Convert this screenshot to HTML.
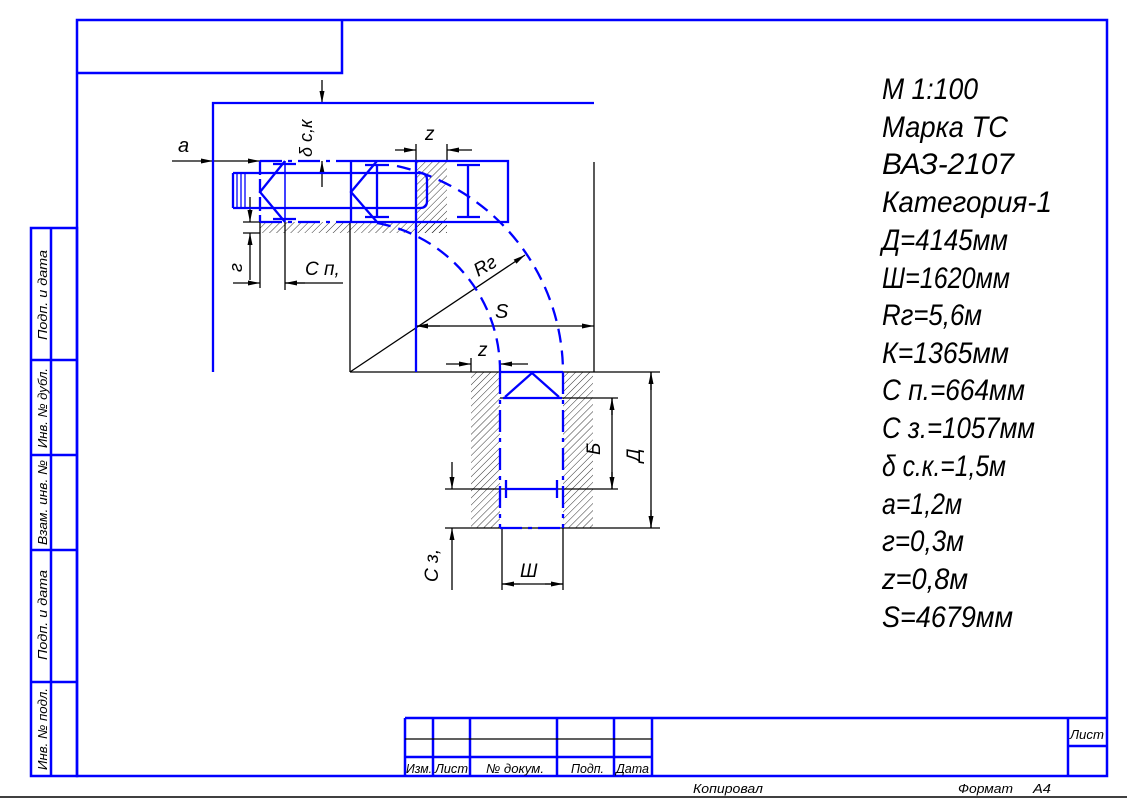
<!DOCTYPE html>
<html><head><meta charset="utf-8"><style>
html,body{margin:0;padding:0;background:#fff}
svg{display:block}
text{font-family:"Liberation Sans",sans-serif;font-style:italic}
</style></head><body>
<svg width="1127" height="798" viewBox="0 0 1127 798" xmlns="http://www.w3.org/2000/svg">
<defs>
<pattern id="h" patternUnits="userSpaceOnUse" width="5" height="5" patternTransform="rotate(45)">
<line x1="0" y1="0" x2="0" y2="5" stroke="#000" stroke-width="0.8"/>
</pattern>
<marker id="ar" markerWidth="12" markerHeight="6" refX="12" refY="3" orient="auto" markerUnits="userSpaceOnUse"><path d="M0,0.5 L12,3 L0,5.5z" fill="#000"/></marker>
</defs>
<rect width="1127" height="798" fill="#fff"/>
<g stroke="#00f" stroke-width="2.5" fill="none">
<rect x="77" y="20" width="1030" height="756"/>
<polyline points="77,73 342,73 342,20"/>
<rect x="31" y="228" width="46" height="548"/>
<line x1="51" y1="228" x2="51" y2="776"/>
<line x1="31" y1="360" x2="77" y2="360"/>
<line x1="31" y1="455" x2="77" y2="455"/>
<line x1="31" y1="550" x2="77" y2="550"/>
<line x1="31" y1="682" x2="77" y2="682"/>
<line x1="405" y1="718" x2="1107" y2="718"/>
<line x1="405" y1="718" x2="405" y2="776"/>
<line x1="433" y1="718" x2="433" y2="776"/>
<line x1="470" y1="718" x2="470" y2="776"/>
<line x1="557" y1="718" x2="557" y2="776"/>
<line x1="614" y1="718" x2="614" y2="776"/>
<line x1="652" y1="718" x2="652" y2="776"/>
<line x1="405" y1="757" x2="652" y2="757"/>
<line x1="1068" y1="718" x2="1068" y2="776"/>
<line x1="1068" y1="746" x2="1107" y2="746"/>
</g>
<line x1="405" y1="739" x2="652" y2="739" stroke="#000" stroke-width="1.2"/>
<line x1="0" y1="797" x2="1127" y2="797" stroke="#000" stroke-width="1.5"/>
<g font-size="13" fill="#000">
<text x="406" y="773" textLength="26" lengthAdjust="spacingAndGlyphs">Изм.</text>
<text x="435" y="773" textLength="33" lengthAdjust="spacingAndGlyphs">Лист</text>
<text x="486" y="773" textLength="58" lengthAdjust="spacingAndGlyphs">№ докум.</text>
<text x="571" y="773" textLength="33" lengthAdjust="spacingAndGlyphs">Подп.</text>
<text x="616" y="773" textLength="33" lengthAdjust="spacingAndGlyphs">Дата</text>
<text x="1070" y="739" textLength="34" lengthAdjust="spacingAndGlyphs">Лист</text>
<text x="693" y="793" textLength="70" lengthAdjust="spacingAndGlyphs">Копировал</text>
<text x="958" y="793" textLength="55" lengthAdjust="spacingAndGlyphs">Формат</text>
<text x="1033" y="793" textLength="18" lengthAdjust="spacingAndGlyphs">А4</text>
</g>
<g font-size="13" fill="#000">
<text transform="translate(47,340) rotate(-90)" textLength="90" lengthAdjust="spacingAndGlyphs">Подп. и дата</text>
<text transform="translate(47,448) rotate(-90)" textLength="80" lengthAdjust="spacingAndGlyphs">Инв. № дубл.</text>
<text transform="translate(47,545) rotate(-90)" textLength="85" lengthAdjust="spacingAndGlyphs">Взам. инв. №</text>
<text transform="translate(47,660) rotate(-90)" textLength="90" lengthAdjust="spacingAndGlyphs">Подп. и дата</text>
<text transform="translate(47,770) rotate(-90)" textLength="82" lengthAdjust="spacingAndGlyphs">Инв. № подл.</text>
</g>
<g fill="url(#h)">
<rect x="260" y="222" width="187" height="11"/>
<rect x="416" y="161" width="31" height="72"/>
<rect x="471" y="372" width="29" height="156"/>
<rect x="563" y="372" width="30" height="156"/>
</g>
<g stroke="#000" stroke-width="1.3" fill="none">
<line x1="350" y1="222" x2="350" y2="372"/>
<line x1="350" y1="372" x2="660" y2="372"/>
<line x1="594" y1="162" x2="594" y2="372"/>
<line x1="350" y1="372" x2="525" y2="255" marker-end="url(#ar)"/>
<line x1="416" y1="326" x2="594" y2="326" marker-end="url(#ar)"/>
<line x1="440" y1="326" x2="416" y2="326" marker-end="url(#ar)"/>
<line x1="445" y1="528" x2="660" y2="528"/>
<line x1="500" y1="398" x2="618" y2="398"/>
<line x1="445" y1="489" x2="618" y2="489"/>
<line x1="651" y1="390" x2="651" y2="372" marker-end="url(#ar)"/>
<line x1="651" y1="372" x2="651" y2="528"/>
<line x1="651" y1="510" x2="651" y2="528" marker-end="url(#ar)"/>
<line x1="612" y1="415" x2="612" y2="398" marker-end="url(#ar)"/>
<line x1="612" y1="398" x2="612" y2="489"/>
<line x1="612" y1="472" x2="612" y2="489" marker-end="url(#ar)"/>
<line x1="452" y1="462" x2="452" y2="489" marker-end="url(#ar)"/>
<line x1="452" y1="590" x2="452" y2="528" marker-end="url(#ar)"/>
<line x1="502" y1="528" x2="502" y2="590"/>
<line x1="563" y1="528" x2="563" y2="590"/>
<line x1="502" y1="584" x2="563" y2="584"/>
<line x1="520" y1="584" x2="502" y2="584" marker-end="url(#ar)"/>
<line x1="545" y1="584" x2="563" y2="584" marker-end="url(#ar)"/>
<line x1="446" y1="364" x2="471" y2="364" marker-end="url(#ar)"/>
<line x1="528" y1="364" x2="500" y2="364" marker-end="url(#ar)"/>
<line x1="471" y1="358" x2="471" y2="372"/>
<line x1="395" y1="150" x2="416" y2="150" marker-end="url(#ar)"/>
<line x1="472" y1="150" x2="447" y2="150" marker-end="url(#ar)"/>
<line x1="416" y1="144" x2="416" y2="161"/>
<line x1="447" y1="144" x2="447" y2="161"/>
<line x1="322" y1="80" x2="322" y2="103" marker-end="url(#ar)"/>
<line x1="322" y1="187" x2="322" y2="161" marker-end="url(#ar)"/>
<line x1="172" y1="161" x2="213" y2="161" marker-end="url(#ar)"/>
<line x1="213" y1="161" x2="240" y2="161"/>
<line x1="240" y1="161" x2="260" y2="161" marker-end="url(#ar)"/>
<line x1="250" y1="197" x2="250" y2="222" marker-end="url(#ar)"/>
<line x1="250" y1="280" x2="250" y2="233" marker-end="url(#ar)"/>
<line x1="243" y1="222" x2="260" y2="222"/>
<line x1="243" y1="233" x2="260" y2="233"/>
<line x1="260" y1="222" x2="260" y2="288"/>
<line x1="285" y1="222" x2="285" y2="290"/>
<line x1="233" y1="283" x2="260" y2="283" marker-end="url(#ar)"/>
<line x1="343" y1="283" x2="285" y2="283"/>
<line x1="305" y1="283" x2="285" y2="283" marker-end="url(#ar)"/>
</g>
<g stroke="#00f" stroke-width="2.3" fill="none">
<polyline points="594,103 213,103 213,372"/>
<line x1="416" y1="161" x2="416" y2="372"/>
<polyline points="351,161 508,161 508,222 351,222 351,161"/>
<line x1="260" y1="161" x2="351" y2="161" stroke-dasharray="22,6,4,6"/>
<line x1="260" y1="222" x2="351" y2="222" stroke-dasharray="22,6,4,6"/>
<line x1="260" y1="161" x2="260" y2="222" stroke-dasharray="14,4"/>
<line x1="285" y1="161" x2="285" y2="222" stroke-width="1.5"/>
<path d="M233,173 H420 Q427,173 427,180 V201 Q427,208 420,208 H233"/>
<line x1="233" y1="173" x2="233" y2="208"/>
<g stroke-width="1.3"><line x1="237" y1="173" x2="237" y2="208"/><line x1="241" y1="173" x2="241" y2="208"/><line x1="245" y1="173" x2="245" y2="208"/></g>
<polyline points="285,161 260,192 285,222"/>
<line x1="273" y1="164" x2="296" y2="164"/><line x1="273" y1="219" x2="296" y2="219"/>
<polyline points="377,161 351,192 377,222"/>
<line x1="377" y1="165" x2="377" y2="217"/><line x1="365" y1="165" x2="389" y2="165"/><line x1="365" y1="217" x2="389" y2="217"/>
<line x1="468" y1="165" x2="468" y2="217"/><line x1="457" y1="165" x2="480" y2="165"/><line x1="457" y1="217" x2="480" y2="217"/>
<path d="M377,223 A150,150 0 0 1 500,372" stroke-dasharray="14,8"/>
<path d="M397,166 A212,212 0 0 1 563,372" stroke-dasharray="14,8"/>
<line x1="500" y1="372" x2="500" y2="528" stroke-dasharray="22,6,4,6"/>
<line x1="563" y1="372" x2="563" y2="528" stroke-dasharray="22,6,4,6"/>
<line x1="500" y1="372" x2="563" y2="372"/>
<line x1="500" y1="528" x2="563" y2="528" stroke-dasharray="22,6,4,6"/>
<polyline points="505,397 532,373 559,397"/>
<line x1="503" y1="398" x2="562" y2="398"/>
<line x1="506" y1="489" x2="557" y2="489"/>
<line x1="506" y1="480" x2="506" y2="498"/><line x1="557" y1="480" x2="557" y2="498"/>
</g>
<g font-size="20" fill="#000">
<text x="178" y="152">a</text>
<text transform="translate(312,157) rotate(-90)" font-size="18">δ с,к</text>
<text x="425" y="140" font-size="19">z</text>
<text x="228" y="272" transform="rotate(-90 235 265)" font-size="18">г</text>
<text x="305" y="275" font-size="19">С п,</text>
<text x="473" y="272" transform="rotate(-30 485 265)" font-size="19">Rг</text>
<text x="495" y="318" font-size="20">S</text>
<text x="478" y="356" font-size="19">z</text>
<text transform="translate(600,455) rotate(-90)" font-size="19">Б</text>
<text transform="translate(640,462) rotate(-90)" font-size="19">Д</text>
<text transform="translate(438,582) rotate(-90)" font-size="19">С з,</text>
<text x="520" y="577" font-size="19">Ш</text>
</g>
<g font-size="30" fill="#000" lengthAdjust="spacingAndGlyphs">
<text x="882" y="99" textLength="96" lengthAdjust="spacingAndGlyphs">М 1:100</text>
<text x="882" y="137" textLength="126" lengthAdjust="spacingAndGlyphs">Марка ТС</text>
<text x="882" y="174" textLength="132" lengthAdjust="spacingAndGlyphs">ВАЗ-2107</text>
<text x="882" y="212" textLength="170" lengthAdjust="spacingAndGlyphs">Категория-1</text>
<text x="882" y="250" textLength="126" lengthAdjust="spacingAndGlyphs">Д=4145мм</text>
<text x="882" y="288" textLength="128" lengthAdjust="spacingAndGlyphs">Ш=1620мм</text>
<text x="882" y="325" textLength="100" lengthAdjust="spacingAndGlyphs">Rг=5,6м</text>
<text x="882" y="363" textLength="127" lengthAdjust="spacingAndGlyphs">К=1365мм</text>
<text x="882" y="400" textLength="143" lengthAdjust="spacingAndGlyphs">С п.=664мм</text>
<text x="882" y="438" textLength="153" lengthAdjust="spacingAndGlyphs">С з.=1057мм</text>
<text x="882" y="476" textLength="124" lengthAdjust="spacingAndGlyphs">δ с.к.=1,5м</text>
<text x="882" y="514" textLength="80" lengthAdjust="spacingAndGlyphs">a=1,2м</text>
<text x="882" y="551" textLength="82" lengthAdjust="spacingAndGlyphs">г=0,3м</text>
<text x="882" y="589" textLength="86" lengthAdjust="spacingAndGlyphs">z=0,8м</text>
<text x="882" y="627" textLength="131" lengthAdjust="spacingAndGlyphs">S=4679мм</text>
</g>
</svg>
</body></html>
